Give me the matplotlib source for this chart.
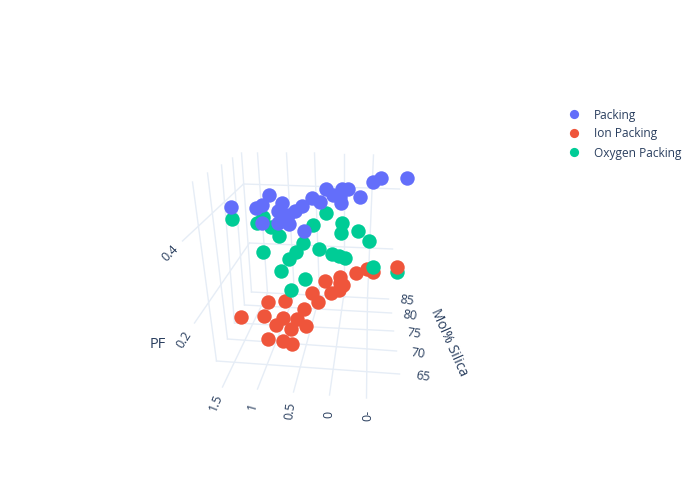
import matplotlib
matplotlib.use('Agg')
import matplotlib.pyplot as plt

plt.rcParams['font.family'] = ['Open Sans', 'DejaVu Sans']

# The reference is a 3D scene, so all values are read as they appear on the picture
packing_x = [407, 381, 373, 360, 348, 342, 326, 333, 341, 340, 312, 320, 302,
             295, 288, 282, 278, 283, 289, 278, 269, 262, 256, 262, 231, 304]
packing_y = [178, 178, 182, 197, 189, 189, 189, 195, 203, 197, 198, 202, 206,
             211, 215, 203, 211, 217, 224, 223, 195, 205, 208, 223, 207, 231]

ion_x = [373, 367, 356, 340, 325, 343, 339, 331, 340, 312, 318, 268, 285, 304,
         241, 264, 283, 276, 297, 306, 291, 268, 283, 292]
ion_y = [272, 269, 273, 277, 281, 285, 290, 293, 283, 293, 302, 302, 301, 309,
         317, 316, 318, 325, 319, 326, 329, 339, 341, 344]
# this one sits in front of the green point below it
ion_front_x = [397]
ion_front_y = [267]

oxygen_x = [397, 232, 263, 257, 271, 279, 263, 313, 326, 342, 341, 358, 369, 303,
            296, 289, 319, 332, 339, 345, 281, 305, 291, 373]
oxygen_y = [272, 219, 217, 223, 227, 236, 252, 225, 213, 223, 233, 231, 241, 243,
            252, 259, 249, 254, 256, 258, 271, 279, 290, 267]

# grid lines as (x0, y0, x1, y1)
silica_floor = [(217, 361, 400, 374), (228, 339, 397, 351), (235, 323, 394, 331),
                (245, 305, 392, 313), (252, 292, 389, 299)]
silica_wall = [(217, 361, 193, 182), (228, 339, 208, 173), (235, 323, 222, 165),
               (245, 305, 233, 158), (252, 292, 242, 153)]
x_floor = [(223, 387, 268, 293), (258, 389, 295, 295), (294, 392, 320, 296),
           (330, 395, 344, 297), (367, 398, 368, 298)]
x_wall = [(268, 293, 258, 153), (295, 295, 287, 153), (320, 296, 315, 153),
          (344, 297, 344, 154), (368, 298, 374, 155)]
pf_side = [(183, 241, 244, 184), (195, 323, 250, 243)]
pf_back = [(244, 184, 400, 189), (250, 243, 393, 249)]

x_tick_labels = ['1.5', '1', '0.5', '0', '0-']
x_tick_x = [216, 253, 291, 329, 368]
x_tick_y = [403, 407, 411, 414, 415]
x_tick_rot = [68, 74, 82, 90, 90]

silica_tick_labels = ['65', '70', '75', '80', '85']
silica_tick_x = [423, 418, 414, 410, 407]
silica_tick_y = [377, 354, 334, 316, 301]

pf_tick_labels = ['0.2', '0.4']
pf_tick_x = [185, 171]
pf_tick_y = [340, 253]
pf_tick_rot = [58, 45]

legend_labels = ['Packing', 'Ion Packing', 'Oxygen Packing']
legend_y = [114, 133, 152]
colors = ['#636efa', '#EF553B', '#00cc96']
text_color = '#2a3f5f'
grid_color = '#E6EDF6'

fig = plt.figure(figsize=(7, 5), dpi=100)
ax = fig.add_axes([0, 0, 1, 1])
ax.set_xlim(0.5, 700.5)
ax.set_ylim(500, 0)
ax.axis('off')

for group in [silica_floor, silica_wall, x_floor, x_wall, pf_side, pf_back]:
    for x0, y0, x1, y1 in group:
        ax.plot([x0, x1], [y0, y1], color=grid_color, lw=1, zorder=1)

size = 108
ax.scatter(ion_x, ion_y, s=size, color=colors[1], linewidths=0, zorder=2)
ax.scatter(oxygen_x, oxygen_y, s=size, color=colors[2], linewidths=0, zorder=3)
ax.scatter(ion_front_x, ion_front_y, s=size, color=colors[1], linewidths=0, zorder=4)
ax.scatter(packing_x, packing_y, s=size, color=colors[0], linewidths=0, zorder=5)

for label, x, y, rot in zip(x_tick_labels, x_tick_x, x_tick_y, x_tick_rot):
    ax.text(x, y, label, rotation=rot, ha='center', va='center', fontsize=9, color=text_color)
for label, x, y in zip(silica_tick_labels, silica_tick_x, silica_tick_y):
    ax.text(x, y, label, rotation=-8, ha='center', va='center', fontsize=9, color=text_color)
for label, x, y, rot in zip(pf_tick_labels, pf_tick_x, pf_tick_y, pf_tick_rot):
    ax.text(x, y, label, rotation=rot, ha='center', va='center', fontsize=9, color=text_color)

ax.text(449, 343, 'Mol% Silica', rotation=-66, ha='center', va='center', fontsize=10, color=text_color)
ax.text(158, 345, 'PF', ha='center', va='center', fontsize=10.5, color=text_color)

for label, y, c in zip(legend_labels, legend_y, colors):
    ax.scatter([574], [y], s=44, color=c, linewidths=0)
    ax.text(594, y + 1, label, ha='left', va='center', fontsize=8.6, color=text_color)

plt.savefig('out.png', dpi=100)
